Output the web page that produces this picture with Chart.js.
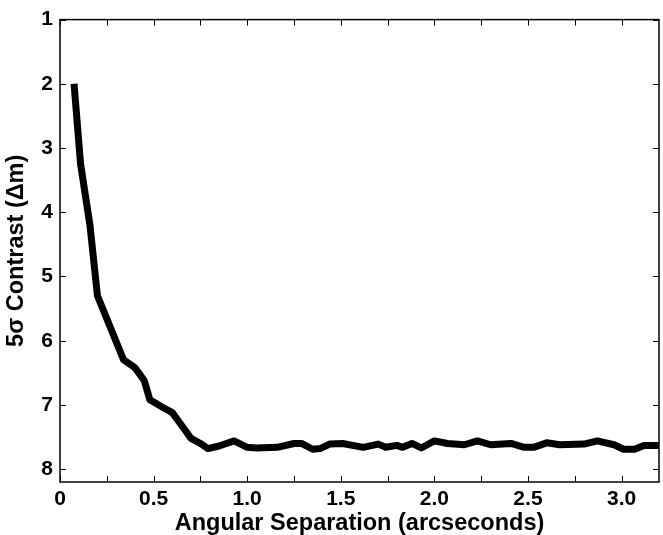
<!DOCTYPE html>
<html lang="en">
<head>
  <meta charset="UTF-8" />
  <title>5 sigma contrast curve</title>
  <script src="https://cdn.jsdelivr.net/npm/chart.js"></script>
  <style>
    html, body {
      margin: 0;
      padding: 0;
      background: #fff;
    }
    #wrap {
      width: 663px;
      height: 535px;
      position: relative;
    }
  </style>
</head>
<body>
  <div id="wrap">
    <canvas id="myChart" width="663" height="535"></canvas>
  </div>

  <script>
    // angular separation (arcsec) and 5-sigma contrast (delta mag)
    const separation = [0.075, 0.11, 0.16, 0.20, 0.27, 0.34, 0.40, 0.45, 0.48, 0.55, 0.60, 0.65, 0.70, 0.75,
      0.79, 0.85, 0.93, 1.00, 1.05, 1.16, 1.25, 1.29, 1.35, 1.39, 1.44, 1.51, 1.62, 1.70, 1.74, 1.80,
      1.83, 1.88, 1.93, 2.00, 2.07, 2.16, 2.23, 2.30, 2.41, 2.48, 2.53, 2.60, 2.67, 2.80, 2.87, 2.96,
      3.01, 3.07, 3.12, 3.20];
    const contrast = [2.0, 3.25, 4.2, 5.3, 5.8, 6.3, 6.42, 6.62, 6.92, 7.04, 7.12, 7.32, 7.52, 7.6,
      7.68, 7.64, 7.56, 7.66, 7.67, 7.66, 7.6, 7.6, 7.69, 7.68, 7.61, 7.6, 7.66, 7.61, 7.66, 7.63,
      7.66, 7.6, 7.67, 7.56, 7.6, 7.62, 7.56, 7.62, 7.6, 7.66, 7.66, 7.59, 7.62, 7.61, 7.56, 7.62,
      7.69, 7.69, 7.63, 7.63];

    const xTicks = [0, 0.5, 1.0, 1.5, 2.0, 2.5, 3.0];
    const xTickLabels = ['0', '0.5', '1.0', '1.5', '2.0', '2.5', '3.0'];
    const xMinorTicks = [0.25, 0.75, 1.25, 1.75, 2.25, 2.75];
    const yTicks = [1, 2, 3, 4, 5, 6, 7, 8];

    const font = 'Liberation Sans, Arial, Helvetica, sans-serif';

    // box round the plot with inward tick marks, matlab style
    const boxTicks = {
      id: 'boxTicks',
      afterDatasetsDraw(chart) {
        const { ctx, chartArea: a, scales } = chart;
        const len = 6;
        ctx.save();
        ctx.strokeStyle = '#000';
        ctx.lineWidth = 1;
        ctx.beginPath();
        for (const v of xTicks.concat(xMinorTicks)) {
          const px = Math.round(scales.x.getPixelForValue(v)) + 0.5;
          ctx.moveTo(px, a.bottom); ctx.lineTo(px, a.bottom - len);
          ctx.moveTo(px, a.top); ctx.lineTo(px, a.top + len);
        }
        for (const v of yTicks) {
          const py = Math.round(scales.y.getPixelForValue(v)) + 0.5;
          ctx.moveTo(a.left, py); ctx.lineTo(a.left + len, py);
          ctx.moveTo(a.right, py); ctx.lineTo(a.right - len, py);
        }
        ctx.stroke();
        ctx.lineWidth = 1.5;
        ctx.strokeRect(a.left, a.top, a.right - a.left, a.bottom - a.top);
        ctx.restore();
      }
    };

    new Chart(document.getElementById('myChart').getContext('2d'), {
      type: 'line',
      data: {
        datasets: [{
          data: separation.map((s, i) => ({ x: s, y: contrast[i] })),
          borderColor: '#000',
          borderWidth: 7,
          pointRadius: 0,
          tension: 0,
          borderJoinStyle: 'round',
          borderCapStyle: 'butt',
          fill: false
        }]
      },
      options: {
        responsive: false,
        animation: false,
        layout: { padding: { top: 16, right: 4, left: 0, bottom: 0 } },
        plugins: { legend: { display: false }, tooltip: { enabled: false } },
        scales: {
          x: {
            type: 'linear',
            min: 0,
            max: 3.2,
            afterBuildTicks: s => { s.ticks = xTicks.map(v => ({ value: v })); },
            afterFit: s => { s.height = 53; },
            grid: { display: false, drawTicks: false, tickLength: 0 },
            border: { display: false },
            ticks: {
              color: '#000',
              padding: 5,
              maxRotation: 0,
              autoSkip: false,
              font: { family: font, size: 21, weight: 'bold' },
              callback: (v, i) => xTickLabels[i]
            },
            title: {
              display: true,
              text: 'Angular Separation (arcseconds)',
              color: '#000',
              padding: { top: 0, bottom: -3 },
              font: { family: font, size: 23.5, weight: 'bold' }
            }
          },
          y: {
            type: 'linear',
            reverse: true,
            min: 1,
            max: 8.2,
            afterBuildTicks: s => { s.ticks = yTicks.map(v => ({ value: v })); },
            afterFit: s => { s.width = 60; },
            grid: { display: false, drawTicks: false, tickLength: 0 },
            border: { display: false },
            ticks: {
              color: '#000',
              padding: 7,
              autoSkip: false,
              font: { family: font, size: 21, weight: 'bold' },
              callback: v => String(v)
            },
            title: {
              display: true,
              text: '5σ Contrast (Δm)',
              color: '#000',
              padding: { top: 2, bottom: 0 },
              font: { family: font, size: 23.5, weight: 'bold' }
            }
          }
        }
      },
      plugins: [boxTicks]
    });
  </script>
</body>
</html>
